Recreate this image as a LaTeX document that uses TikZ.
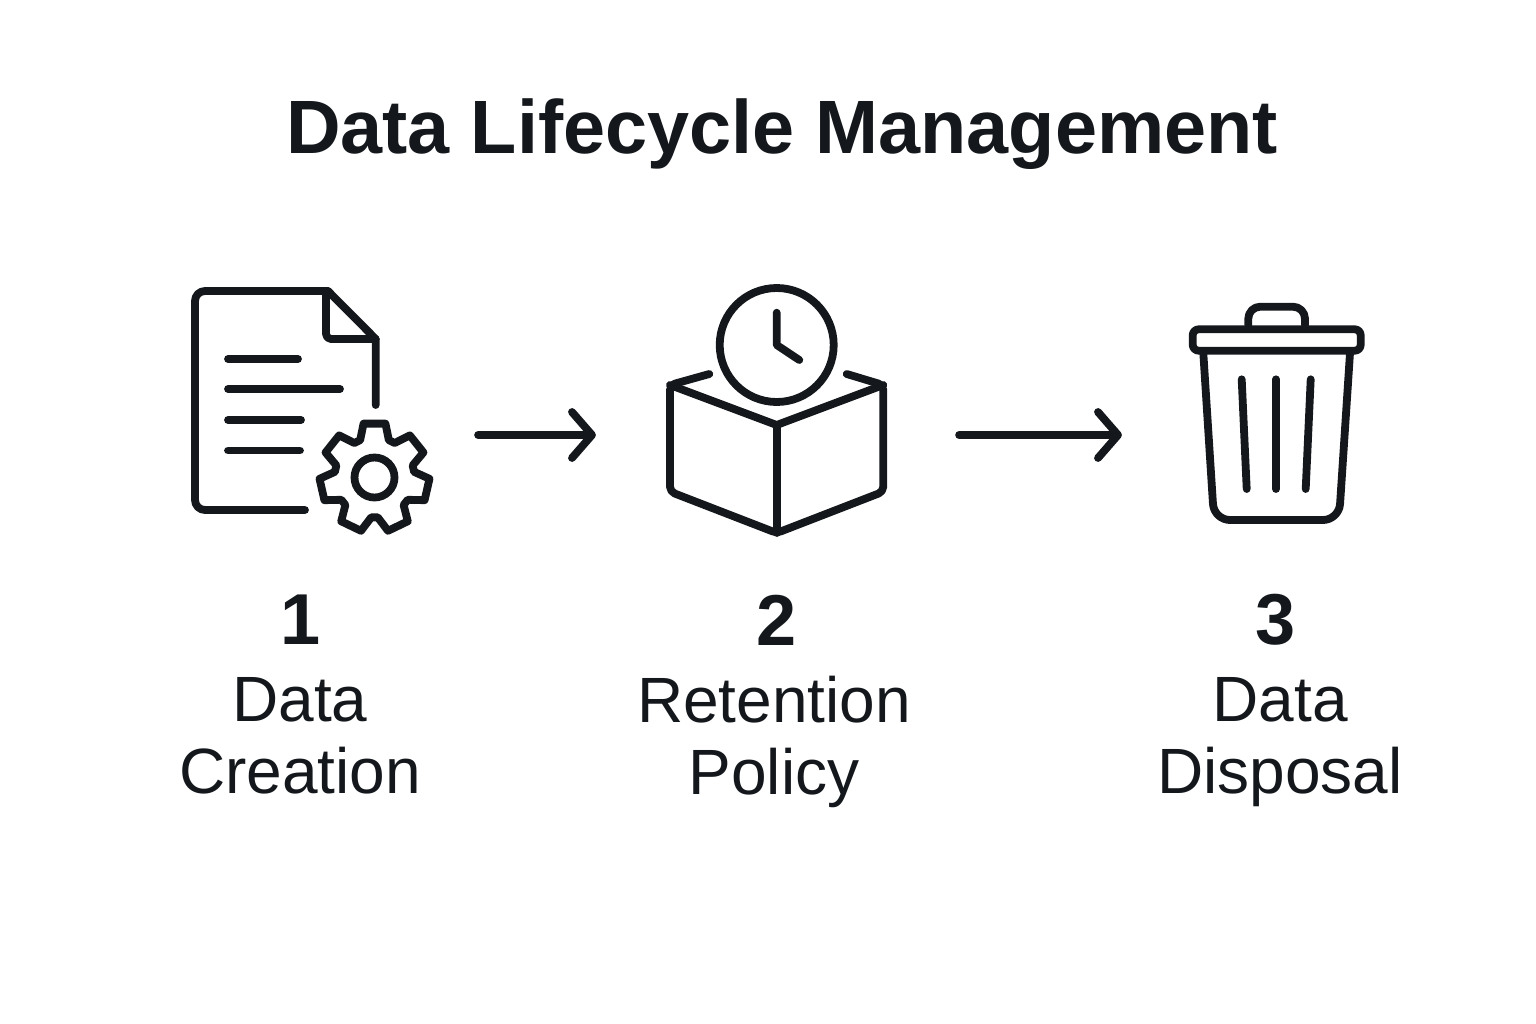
\documentclass[tikz,border=0pt]{standalone}
\usepackage{fontspec}
\setmainfont{Liberation Sans}
\usetikzlibrary{arrows.meta,positioning}
\definecolor{inkdark}{RGB}{20, 24, 28}
\tikzset{
  iconline/.style={line width=0.078cm, color=inkdark, line cap=round, line join=round},
  iconbox/.style={minimum height=1.5cm, inner sep=0pt, outer sep=0pt},
  flowarrow/.style={iconline, -{Straight Barb[length=0.2cm, width=0.46cm, round]}},
  titlelabel/.style={font=\fontsize{21.5}{24}\bfseries\selectfont, text=inkdark, inner sep=0pt},
  numlabel/.style={font=\fontsize{20.5}{24}\bfseries\selectfont, text=inkdark, inner sep=0pt},
  steplabel/.style={font=\fontsize{18.2}{20.5}\selectfont, text=inkdark, align=center, inner sep=0pt}
}
\begin{document}
\begin{tikzpicture}[x=0.01cm, y=-0.01cm]
\useasboundingbox[fill=white] (0,0) rectangle (1536,1024);

% Title
\node[titlelabel] (title) at (782,134) {Data Lifecycle Management};

% Hidden boxes round the icons, the arrows run between them
\node[iconbox, minimum width=2.92cm] (creation) at (332,435) {};
\node[iconbox, minimum width=3.63cm] (retention) at (777.5,435) {};
\node[iconbox, minimum width=3.10cm] (disposal) at (1277,435) {};

% First icon: page
\draw[iconline, rounded corners=0.1cm] (305,510) -- (195,510) -- (195,291) -- (328,291);
\draw[iconline] (328,291) -- (375.7,339) -- (375.7,405);
\draw[iconline, rounded corners=0.05cm] (326,291) -- (326,339) -- (375.7,339);
\draw[iconline] (228,359) -- (298,359);
\draw[iconline] (228,389) -- (340,389);
\draw[iconline] (228,420) -- (301,420);
\draw[iconline] (228,450.5) -- (300,450.5);

% First icon: gear
\begin{scope}[shift={(374.5,477.5)}]
\draw[iconline] (-111:40)
  \foreach \toothangle in {-90,-38.57,12.86,64.29,115.71,167.14,218.57} {
    -- ({\toothangle-21}:40) -- ({\toothangle-11.5}:55)
    -- ({\toothangle+11.5}:55) -- ({\toothangle+21}:40)
  } -- cycle;
\draw[iconline] (0,0) circle[radius=20];
\end{scope}

% Second icon: box
\draw[iconline] (670,385) -- (776.7,425) -- (883.3,385);
\draw[iconline, rounded corners=0.05cm] (709.3,374) -- (670,385) -- (670,491.7) -- (776.7,533) -- (883.3,491.7) -- (883.3,385) -- (846.7,374);
\draw[iconline] (776.7,425) -- (776.7,533);

% Second icon: clock
\draw[iconline] (776.7,345) circle[radius=57];
\draw[iconline] (776.7,312.7) -- (776.7,345) -- (799.3,360);

% Third icon: bin
\draw[iconline, rounded corners=0.12cm] (1248.3,325) -- (1248.3,306.7) -- (1305,306.7) -- (1305,325);
\draw[iconline, rounded corners=0.06cm] (1192.7,329.3) rectangle (1360.7,350.7);
\draw[iconline, rounded corners=0.16cm] (1203.3,353) -- (1214,520) -- (1339,520) -- (1350,353);
\draw[iconline] (1241.7,379.3) -- (1246.7,489);
\draw[iconline] (1276,379.3) -- (1276,489);
\draw[iconline] (1310.7,379.3) -- (1305.7,489);

% Arrows
\draw[flowarrow] (creation) -- (retention);
\draw[flowarrow] (retention) -- (disposal);

% Labels
\node[numlabel] (num1) at (301,620) {1};
\node[numlabel] (num2) at (777,620) {2};
\node[numlabel] (num3) at (1276,620) {3};
\node[steplabel] (step1) at (300,736) {Data\\Creation};
\node[steplabel] (step2) at (774,742) {Retention\\Policy};
\node[steplabel] (step3) at (1280,742) {Data\\Disposal};
\end{tikzpicture}
\end{document}
